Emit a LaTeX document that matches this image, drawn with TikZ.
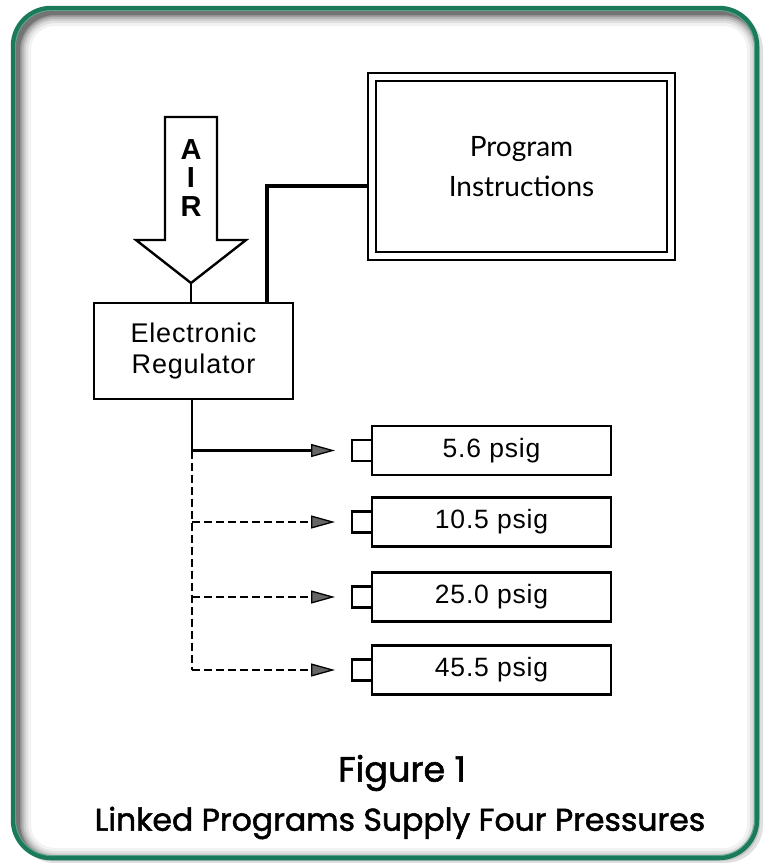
\documentclass[tikz,border=0pt]{standalone}
\usepackage{fontspec}
\setmainfont{Liberation Sans}
\newfontfamily\helvspaced{Liberation Sans}[LetterSpace=3]
\newfontfamily\progfont{Lato}
\newfontfamily\capfont{Poppins}[FakeBold=1.6]
\usetikzlibrary{arrows.meta,calc}
\definecolor{framegreen}{RGB}{27,122,92}
\definecolor{framelight}{RGB}{90,165,135}
\tikzset{
  box/.style={draw, line width=2.6pt, rectangle, inner sep=0pt, outer sep=0pt, fill=white},
  outbox/.style={box, minimum width=239pt, minimum height=49pt, font=\helvspaced\fontsize{26.5}{30}\selectfont},
  port/.style={box, minimum width=20pt, minimum height=21pt},
  conn/.style={line width=2.6pt, line cap=butt},
  feed/.style={conn, -{Triangle[length=24pt,width=13pt,fill=black!60,line width=1.3pt]}, shorten >=17pt},
  dashline/.style={dash pattern=on 8pt off 4pt},
}
\begin{document}
\begin{tikzpicture}[x=1pt,y=-1pt]
\useasboundingbox (0,0) rectangle (765,863);
% frame
\def\framepath{(13,8) rectangle (757,858)}
\fill[black!12, rounded corners=38pt] (17,12) rectangle (763,863);
\fill[black!22, rounded corners=38pt] (15,10) rectangle (760,861);
\fill[white, rounded corners=38pt] \framepath;
\begin{scope}
  \clip[rounded corners=38pt] \framepath;
  \foreach \w/\o in {28/0.05,22/0.07,17/0.09,13/0.12,9/0.16,6/0.22}{
    \draw[black, opacity=\o, line width=\w pt, rounded corners=38pt] (17,12) rectangle (761,862);
  }
\end{scope}
\draw[framegreen, line width=4.5pt, rounded corners=38pt] \framepath;
\draw[framelight, line width=0.9pt, rounded corners=36pt] (15.5,10.5) rectangle (754.5,855.5);

% AIR arrow
\draw[line width=2.4pt, fill=white, line join=miter] (165,117) -- (217,117) -- (217,240) -- (246,240) -- (191,283) -- (136,240) -- (165,240) -- cycle;
\coordinate (airtip) at (191,283);
\node[align=center, font=\bfseries\fontsize{29}{28.5}\selectfont, inner sep=0pt] (airtxt) at (191,178) {A\\I\\R};

% regulator
\node[box, minimum width=199pt, minimum height=96pt, align=center,
      font=\helvspaced\fontsize{27}{31}\selectfont] (reg) at (193.5,351) {Electronic\\Regulator};

% program instructions
\node[draw, double, line width=2.6pt, double distance=5.3pt, rectangle, inner sep=0pt, outer sep=0pt,
      minimum width=299pt, minimum height=179pt, align=center,
      font=\progfont\fontsize{28}{40}\selectfont] (prog) at (521.5,166.5) {Program\\Instructions};

% connectors
\draw[conn] (airtip) -- (airtip |- reg.north);
\draw[line width=3.2pt] ($(reg.north west)+(173,0)$) |- ($(prog.west)+(-4,19.5)$);

% outputs
\foreach \i/\y/\t in {1/450.5/5.6 psig, 2/522/10.5 psig, 3/597/25.0 psig, 4/670/45.5 psig}{
  \node[outbox] (o\i) at (491.5,\y) {\t};
  \node[port, anchor=east] (s\i) at (o\i.west) {};
  \coordinate (b\i) at (192,\y);
}
\draw[conn] ([xshift=-1.5pt]reg.south) -- (b1);
\draw[conn, dashline] (b1) -- (b4);
\draw[feed] (b1) -- (s1.west);
\draw[feed, dashline] (b2) -- (s2.west);
\draw[feed, dashline] (b3) -- (s3.west);
\draw[feed, dashline] (b4) -- (s4.west);

% captions
\node[font=\capfont\fontsize{35}{40}\selectfont, inner sep=0pt] (fig) at (402,773) {Figure 1};
\node[font=\capfont\fontsize{31.5}{36}\selectfont, inner sep=0pt] (cap) at (400,823) {Linked Programs Supply Four Pressures};
\end{tikzpicture}
\end{document}
